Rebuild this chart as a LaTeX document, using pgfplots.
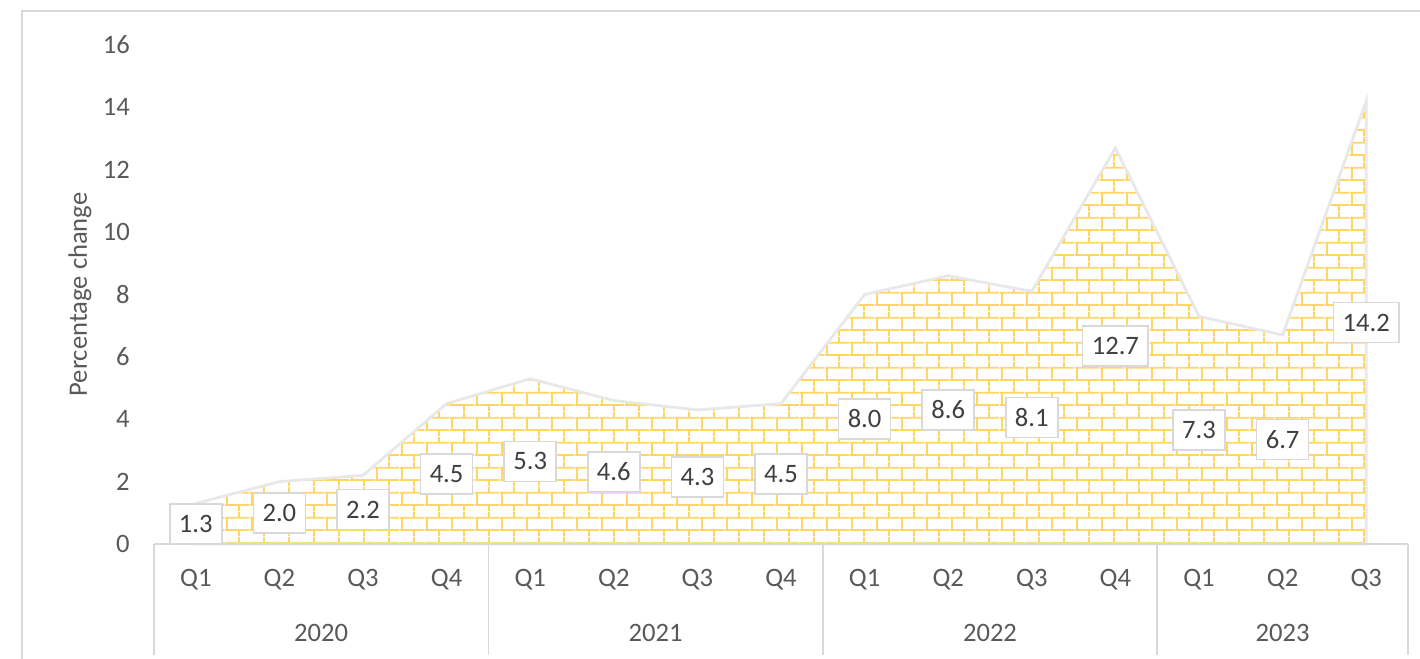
\documentclass[border=0pt]{standalone}
\usepackage{fontspec}
\setmainfont{Carlito}
\usepackage{pgfplots}
\usepackage{pgfplotstable}
\pgfplotsset{compat=1.18}
\usetikzlibrary{patterns}
\definecolor{brick}{RGB}{255,214,98}
\definecolor{txt}{HTML}{595959}
\definecolor{lbl}{HTML}{404040}
\definecolor{gridc}{HTML}{D9D9D9}
\pgfdeclarepatternformonly{mybricks}{\pgfqpoint{0pt}{0pt}}{\pgfqpoint{12.5pt}{12.3pt}}{\pgfqpoint{12.5pt}{12.3pt}}{%
  \pgfsetlinewidth{0.9pt}%
  \pgfpathmoveto{\pgfqpoint{0pt}{3.075pt}}\pgfpathlineto{\pgfqpoint{12.5pt}{3.075pt}}%
  \pgfpathmoveto{\pgfqpoint{0pt}{9.225pt}}\pgfpathlineto{\pgfqpoint{12.5pt}{9.225pt}}%
  \pgfpathmoveto{\pgfqpoint{1pt}{3.075pt}}\pgfpathlineto{\pgfqpoint{1pt}{9.225pt}}%
  \pgfpathmoveto{\pgfqpoint{7.25pt}{9.225pt}}\pgfpathlineto{\pgfqpoint{7.25pt}{12.3pt}}%
  \pgfpathmoveto{\pgfqpoint{7.25pt}{0pt}}\pgfpathlineto{\pgfqpoint{7.25pt}{3.075pt}}%
  \pgfusepath{stroke}%
}
\pgfplotstableread{
x v h
0 1.3 0.65
1 2.0 1.0
2 2.2 1.1
3 4.5 2.25
4 5.3 2.65
5 4.6 2.3
6 4.3 2.15
7 4.5 2.25
8 8.0 4.0
9 8.6 4.3
10 8.1 4.05
11 12.7 6.35
12 7.3 3.65
13 6.7 3.35
14 14.2 7.1
}\datatable
\newcommand{\chartfont}{\fontsize{13.3}{16}\selectfont}
\begin{document}
\begin{tikzpicture}
\useasboundingbox (-77pt,-57.5pt) rectangle (633pt,272pt);
\draw[gridc, line width=1pt] (-66pt,-60pt) -- (-66pt,266.5pt) -- (640pt,266.5pt);
\begin{axis}[
  at={(0,0)}, anchor=south west, scale only axis,
  width=627pt, height=249.5pt,
  xmin=-0.5, xmax=14.5, ymin=0, ymax=16,
  axis line style={draw=none},
  ytick={0,2,...,16},
  xtick={0,...,14},
  xticklabels={Q1,Q2,Q3,Q4,Q1,Q2,Q3,Q4,Q1,Q2,Q3,Q4,Q1,Q2,Q3},
  major tick length=0pt,
  tick label style={font=\chartfont, text=txt},
  xticklabel style={anchor=center, yshift=-18pt},
  yticklabel style={anchor=east, xshift=-8.6pt},
  /pgf/number format/assume math mode=true,
  clip=false,
]
\addplot[draw=black!9, line width=1.4pt, pattern=mybricks, pattern color=brick] table[x=x,y=v]{\datatable} \closedcycle;
\draw[gridc, line width=0.8pt] (axis cs:-0.5,0) -- (axis cs:14.5,0);
\pgfplotsinvokeforeach{-0.5,3.5,7.5,11.5,14.5}{
  \draw[gridc, line width=0.8pt] (axis cs:#1,0) -- ++(0pt,-55.5pt);
}
\addplot[draw=none, mark=none, nodes near coords, point meta=explicit symbolic,
  every node near coord/.style={anchor=center, fill=white, draw=gridc, line width=0.8pt,
    font=\chartfont, text=lbl, inner xsep=4.6pt, inner ysep=0pt, minimum height=20pt,
    text height=8.6pt, text depth=0pt}]
  table[x=x, y=h, meta=v]{\datatable};
\node[font=\chartfont, text=txt] at ([yshift=-44.5pt]axis cs:1.5,0) {2020};
\node[font=\chartfont, text=txt] at ([yshift=-44.5pt]axis cs:5.5,0) {2021};
\node[font=\chartfont, text=txt] at ([yshift=-44.5pt]axis cs:9.5,0) {2022};
\node[font=\chartfont, text=txt] at ([yshift=-44.5pt]axis cs:13,0) {2023};
\node[font=\chartfont, text=txt, rotate=90] at ([xshift=-37pt]rel axis cs:0,0.5) {Percentage change};
\end{axis}
\end{tikzpicture}
\end{document}
